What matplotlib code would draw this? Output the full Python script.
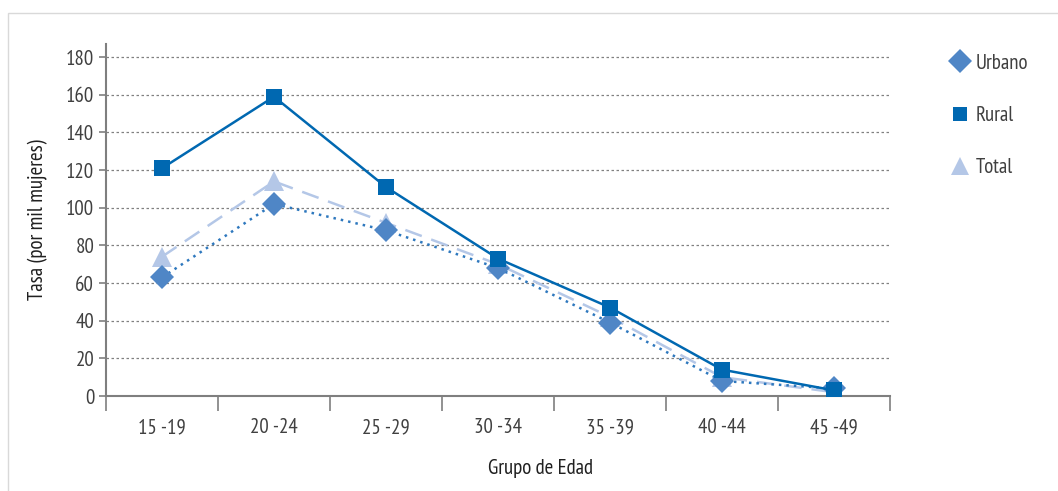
import matplotlib.pyplot as plt
from matplotlib.patches import Rectangle
from matplotlib.lines import Line2D

grupos = ['15 -19', '20 -24', '25 -29', '30 -34', '35 -39', '40 -44', '45 -49']
urbano = [63, 102, 88, 68, 39, 8, 4]
rural = [121, 159, 111, 73, 47, 14, 3]
total = [74, 114, 92, 70, 42, 10, 2]

plt.rcParams['font.family'] = ['PT Sans Narrow', 'DejaVu Sans']

c_rural = '#0068B1'
c_urb = '#4F86C6'
c_urb_line = '#2E78BE'
c_tot = '#B4C7E7'
txt = '#404040'

fig = plt.figure(figsize=(10.58, 4.91), dpi=100)
# light frame around the chart
fig.patches.append(Rectangle((8 / 1058, -0.1), 1.2, (491 - 13) / 491 + 0.1,
                             transform=fig.transFigure, fill=False,
                             edgecolor='#D9D9D9', linewidth=1))
ax = fig.add_axes([106 / 1058, 95 / 491, 784 / 1058, 352 / 491])

x = list(range(len(grupos)))
ax.plot(x, total, color=c_tot, linestyle=(0, (7, 4)), linewidth=1.8,
        marker='^', markersize=15, markeredgewidth=0, zorder=3)
ax.plot(x, urbano, color=c_urb_line, linestyle=(0, (1, 2)), linewidth=1.8,
        marker='D', markersize=12, markerfacecolor=c_urb, markeredgewidth=0, zorder=4)
ax.plot(x, rural, color=c_rural, linewidth=1.8,
        marker='s', markersize=11, markeredgewidth=0, zorder=5)

ax.set_xlim(-0.5, 6.5)
ax.set_ylim(0, 187)
ax.set_yticks(range(0, 181, 20))
ax.yaxis.grid(True, color='#808080', linestyle=(0, (2, 2)), linewidth=0.9)
ax.set_axisbelow(True)

ax.set_xticks([i - 0.5 for i in range(len(grupos) + 1)])
ax.set_xticklabels([])
ax.set_xticks(x, minor=True)
ax.set_xticklabels(grupos, minor=True)
ax.tick_params(axis='x', which='major', length=11, width=1.2, color='#7F7F7F', direction='out')
ax.tick_params(axis='x', which='minor', length=0, pad=16, labelsize=15, labelcolor=txt)
ax.tick_params(axis='y', length=5, width=1.2, color='#7F7F7F', labelsize=15, labelcolor=txt)

for s in ['top', 'right']:
    ax.spines[s].set_visible(False)
for s in ['left', 'bottom']:
    ax.spines[s].set_color('#7F7F7F')
    ax.spines[s].set_linewidth(1.5)

ax.set_xlabel('Grupo de Edad', fontsize=15, color='#202020')
ax.xaxis.set_label_coords((540 - 106) / 784, -(468 - 396) / 352, transform=ax.transAxes)
ax.xaxis.label.set_va('center')
ax.set_ylabel('Tasa (por mil mujeres)', fontsize=15, color='#202020', labelpad=13)

handles = [
    Line2D([], [], linestyle='none', marker='D', markersize=12, color=c_urb, markeredgewidth=0),
    Line2D([], [], linestyle='none', marker='s', markersize=10, color=c_rural, markeredgewidth=0),
    Line2D([], [], linestyle='none', marker='^', markersize=13, color=c_tot, markeredgewidth=0),
]
leg = fig.legend(handles, ['Urbano', 'Rural', 'Total'], loc='upper left',
                 bbox_to_anchor=(926 / 1058, 1 - 35 / 491), frameon=False,
                 fontsize=15, labelspacing=1.6, handletextpad=0.0, handlelength=1.5)
for t in leg.get_texts():
    t.set_color(txt)

fig.savefig('out.png', dpi=100)
